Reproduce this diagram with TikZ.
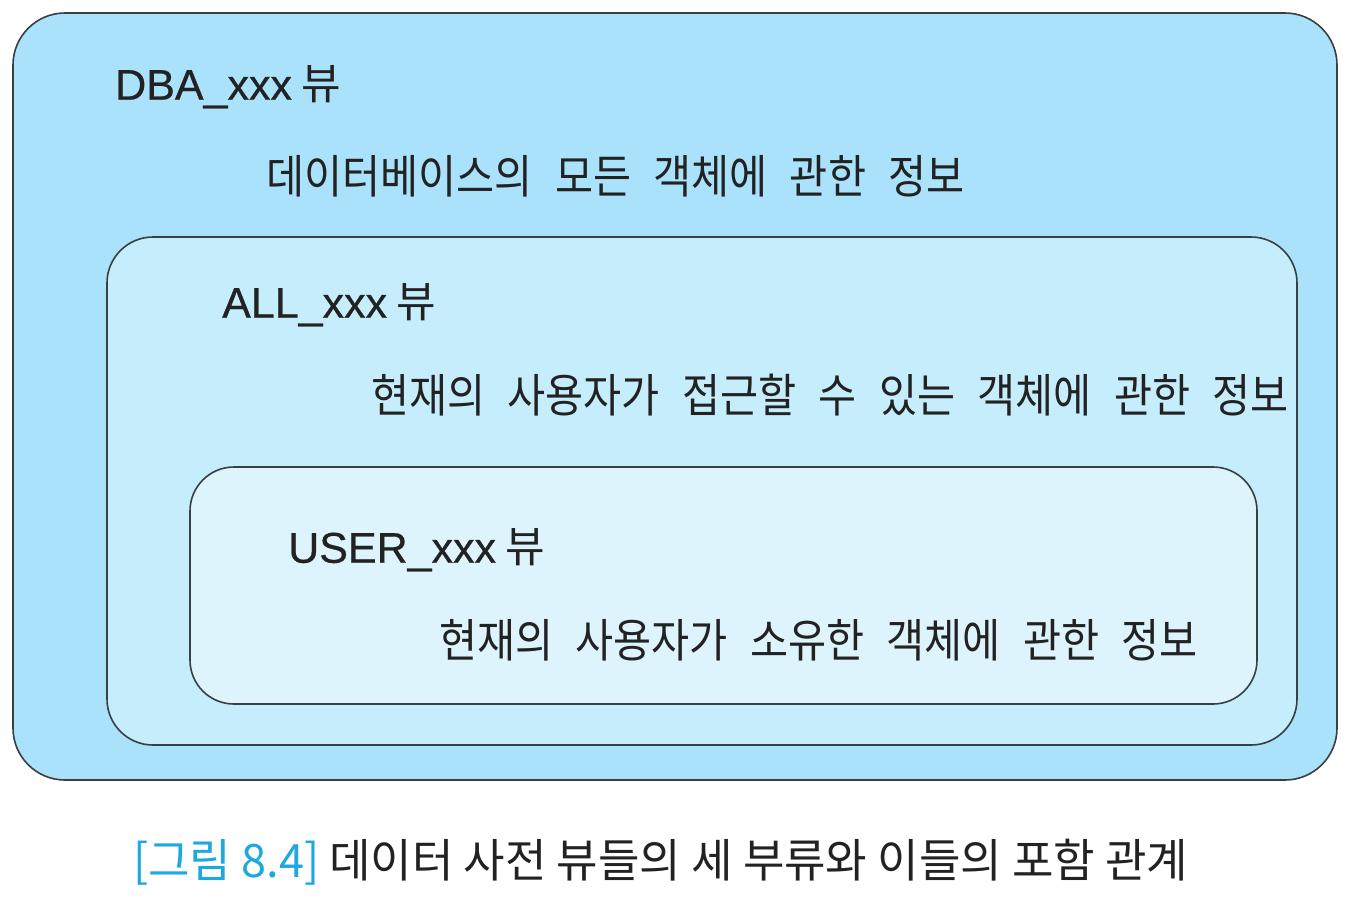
\documentclass[tikz,border=0pt]{standalone}
\usepackage{fontspec}
\setmainfont{Noto Sans CJK KR}
\newfontfamily\kr[FakeStretch=0.9,WordSpace=2.4]{Noto Sans CJK KR}
\newfontfamily\capfont[FakeStretch=0.98,WordSpace=1.0]{Noto Sans CJK KR}
\newfontfamily\hd{Noto Sans CJK KR}
\newfontfamily\lat[FakeBold=0.6]{Liberation Sans}
\definecolor{outerfill}{HTML}{A9E2FA}
\definecolor{midfill}{HTML}{C6EDFB}
\definecolor{innerfill}{HTML}{DDF4FD}
\definecolor{edge}{HTML}{3A3F42}
\definecolor{capblue}{HTML}{1EA8E0}
\definecolor{txt}{HTML}{222222}
\begin{document}
\begin{tikzpicture}[x=1pt,y=-1pt,
  box/.style={draw=edge,line width=1.6pt},
  head/.style={anchor=west,inner sep=0pt,text=txt,font=\hd\fontsize{43}{50}\selectfont},
  body/.style={anchor=west,inner sep=0pt,text=txt,font=\kr\fontsize{46}{54}\selectfont},
]
\useasboundingbox[fill=white] (0,0) rectangle (1352,898);
\draw[box,fill=outerfill,rounded corners=52pt] (13,13) rectangle (1337,780);
\draw[box,fill=midfill,rounded corners=46pt] (107,237) rectangle (1297,745);
\draw[box,fill=innerfill,rounded corners=44pt] (190,467) rectangle (1257,704);
\node[head] (dba) at (115,87) {{\lat DBA\_xxx} 뷰};
\node[body] (dbad) at (266,176) {데이터베이스의 모든 객체에 관한 정보};
\node[head] (all) at (222,305) {{\lat ALL\_xxx} 뷰};
\node[body] (alld) at (371,395) {현재의 사용자가 접근할 수 있는 객체에 관한 정보};
\node[head] (usr) at (288,550) {{\lat USER\_xxx} 뷰};
\node[body] (usrd) at (439,640) {현재의 사용자가 소유한 객체에 관한 정보};
\node[anchor=west,inner sep=0pt,font=\capfont\fontsize{46}{54}\selectfont] (cap) at (133,862)
  {\textcolor{capblue}{[그림 8.4]} \textcolor{txt}{데이터 사전 뷰들의 세 부류와 이들의 포함 관계}};
\end{tikzpicture}
\end{document}
